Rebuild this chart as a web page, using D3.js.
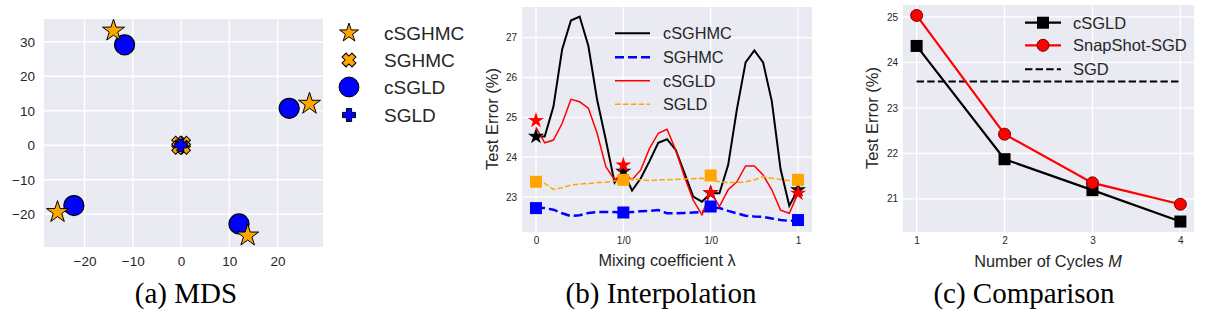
<!DOCTYPE html>
<html>
<head>
<meta charset="utf-8">
<script src="https://cdn.jsdelivr.net/npm/d3@7"></script>
<style>
  body { margin: 0; background: #fff; }
  text { font-family: "Liberation Sans", Arial, sans-serif; fill: #262626; }
  .caption { font-family: "Liberation Serif", "Times New Roman", serif; fill: #000; }
</style>
</head>
<body>
<svg id="fig"></svg>
<script>
// (a) MDS
var mdsCSGHMC = [[-14, 33.2], [26.6, 12], [-25.6, -19.4], [13.8, -26.2]];
var mdsSGHMC = [[-0.5, 0.6], [0.5, 0.6], [-0.5, -0.6], [0.5, -0.6]];
var mdsCSGLD = [[-11.7, 29.1], [22.4, 10.7], [-22.2, -17.5], [12, -22.8]];
var mdsSGLD = [[0, 0], [0.1, 0.1], [-0.1, -0.1]];
var mdsXTicks = [-20, -10, 0, 10, 20];
var mdsYTicks = [-20, -10, 0, 10, 20, 30];

// (b) Interpolation
var lambdaSteps = d3.range(31).map(function (i) { return i / 10; });
var interpXTicks = [0, 1, 2, 3];
var interpXLabels = ['0', '1/0', '1/0', '1'];
var interpYTicks = [23, 24, 25, 26, 27];
var lineCSGHMC = [24.52, 24.52, 25.27, 26.71, 27.43, 27.53, 26.79, 25.44, 24.43, 23.36,
    23.64, 23.16, 23.47, 23.90, 24.36, 24.45, 24.18, 23.60, 23.01, 22.88,
    23.09, 23.09, 23.80, 25.20, 26.38, 26.68, 26.38, 25.40, 23.70, 22.78, 23.18];
var lineSGHMC = [22.72, 22.72, 22.68, 22.59, 22.52, 22.54, 22.60, 22.62, 22.62, 22.62,
    22.60, 22.62, 22.64, 22.65, 22.67, 22.59, 22.59, 22.60, 22.61, 22.62,
    22.74, 22.72, 22.65, 22.59, 22.53, 22.51, 22.50, 22.46, 22.42, 22.40, 22.40];
var lineCSGLD = [24.75, 24.36, 24.43, 24.85, 25.45, 25.39, 25.23, 24.60, 23.76, 23.43,
    23.60, 23.43, 23.68, 24.22, 24.60, 24.70, 24.18, 23.51, 22.92, 22.55,
    23.13, 22.76, 23.18, 23.38, 23.78, 23.78, 23.55, 23.18, 22.67, 22.59, 23.09];
var lineSGLD = [23.38, 23.34, 23.19, 23.23, 23.30, 23.32, 23.34, 23.36, 23.37, 23.40,
    23.43, 23.45, 23.43, 23.41, 23.43, 23.43, 23.44, 23.45, 23.46, 23.47,
    23.43, 23.38, 23.36, 23.36, 23.38, 23.43, 23.51, 23.47, 23.44, 23.41, 23.38];
var endpoints = [0, 1, 2, 3];
var starCSGHMC = [24.52, 23.64, 23.10, 23.18];
var starCSGLD = [24.92, 23.80, 23.11, 23.09];
var squareSGHMC = [22.72, 22.61, 22.76, 22.42];
var squareSGLD = [23.38, 23.43, 23.54, 23.43];

// (c) Comparison
var cycles = [1, 2, 3, 4];
var compCSGLD = [24.36, 21.87, 21.19, 20.50];
var compSnapshot = [25.03, 22.42, 21.35, 20.88];
var compSGD = 23.58;
var compYTicks = [21, 22, 23, 24, 25];

var svg = d3.select('#fig').attr('width', 1217).attr('height', 323);
svg.append('rect').attr('width', 1217).attr('height', 323).attr('fill', '#fff');

function panel(x0, x1, y0, y1, xDom, yDom, xTicks, yTicks, xLabels, fontSize, pad) {
    var g = svg.append('g');
    var x = d3.scaleLinear().domain(xDom).range([x0, x1]);
    var y = d3.scaleLinear().domain(yDom).range([y1, y0]);
    g.append('rect')
        .attr('x', x0).attr('y', y0)
        .attr('width', x1 - x0).attr('height', y1 - y0)
        .attr('fill', '#eaeaf2');
    g.selectAll('.vg').data(xTicks).enter().append('line')
        .attr('x1', x).attr('x2', x).attr('y1', y0).attr('y2', y1)
        .attr('stroke', '#fff').attr('stroke-width', 1.3);
    g.selectAll('.hg').data(yTicks).enter().append('line')
        .attr('x1', x0).attr('x2', x1).attr('y1', y).attr('y2', y)
        .attr('stroke', '#fff').attr('stroke-width', 1.3);
    var fmt = function (d) { return String(d).replace('-', '\u2212'); };
    var xa = g.append('g').attr('transform', 'translate(0,' + y1 + ')')
        .call(d3.axisBottom(x).tickValues(xTicks).tickSize(0).tickPadding(pad)
            .tickFormat(function (d, i) { return xLabels ? xLabels[i] : fmt(d); }));
    var ya = g.append('g').attr('transform', 'translate(' + x0 + ',0)')
        .call(d3.axisLeft(y).tickValues(yTicks).tickSize(0).tickPadding(pad).tickFormat(fmt));
    [xa, ya].forEach(function (a) {
        a.select('.domain').remove();
        a.selectAll('text').attr('font-size', fontSize)
            .attr('font-family', '"Liberation Sans", Arial, sans-serif').attr('fill', '#262626');
    });
    return { g: g, x: x, y: y };
}

function sym(type, size) {
    return d3.symbol().type(type).size(size)();
}

// filled plus like matplotlib 'P' (rotate 45 for 'X')
function plusPath(L, t) {
    var p = [[-t, -L], [t, -L], [t, -t], [L, -t], [L, t], [t, t], [t, L], [-t, L],
        [-t, t], [-L, t], [-L, -t], [-t, -t]];
    return 'M' + p.map(function (q) { return q.join(','); }).join('L') + 'Z';
}

// ---- panel a ----
var pa = panel(44, 323, 19, 247, [-28.4, 29.4], [-29.5, 36.6], mdsXTicks, mdsYTicks, null, 13.5, 9);

pa.g.selectAll('.sghmc').data(mdsSGHMC).enter().append('path')
    .attr('d', plusPath(7, 2.8))
    .attr('transform', function (d) { return 'translate(' + pa.x(d[0]) + ',' + pa.y(d[1]) + ') rotate(45)'; })
    .attr('fill', 'orange').attr('stroke', '#000').attr('stroke-width', 1);
pa.g.selectAll('.csgld').data(mdsCSGLD).enter().append('circle')
    .attr('cx', function (d) { return pa.x(d[0]); })
    .attr('cy', function (d) { return pa.y(d[1]); })
    .attr('r', 10)
    .attr('fill', 'blue').attr('stroke', '#000').attr('stroke-width', 1.2);
pa.g.selectAll('.csghmc').data(mdsCSGHMC).enter().append('path')
    .attr('d', sym(d3.symbolStar, 150))
    .attr('transform', function (d) { return 'translate(' + pa.x(d[0]) + ',' + pa.y(d[1]) + ')'; })
    .attr('fill', 'orange').attr('stroke', '#000').attr('stroke-width', 1);
pa.g.selectAll('.sgld').data(mdsSGLD).enter().append('path')
    .attr('d', plusPath(6, 2.4))
    .attr('transform', function (d) { return 'translate(' + pa.x(d[0]) + ',' + pa.y(d[1]) + ')'; })
    .attr('fill', 'blue').attr('stroke', '#000').attr('stroke-width', 0.6);

var legA = [
    { name: 'cSGHMC', d: sym(d3.symbolStar, 110), rot: 0, fill: 'orange' },
    { name: 'SGHMC', d: plusPath(7, 2.8), rot: 45, fill: 'orange' },
    { name: 'cSGLD', d: sym(d3.symbolCircle, 310), rot: 0, fill: 'blue' },
    { name: 'SGLD', d: plusPath(6.5, 2.6), rot: 0, fill: 'blue' }
];
var legAy = [33, 60, 87, 115];
legA.forEach(function (l, i) {
    svg.append('path').attr('d', l.d)
        .attr('transform', 'translate(349,' + legAy[i] + ') rotate(' + l.rot + ')')
        .attr('fill', l.fill).attr('stroke', '#000').attr('stroke-width', 1);
    svg.append('text').attr('x', 384).attr('y', legAy[i]).attr('dy', '0.36em')
        .attr('font-size', 19).text(l.name);
});

// ---- panel b ----
var pb = panel(522, 812, 7, 232, [-0.16, 3.16], [22.12, 27.77], interpXTicks, interpYTicks, interpXLabels, 10, 5);

var interpSeries = [
    { name: 'cSGHMC', vals: lineCSGHMC, color: '#000', w: 2, dash: null },
    { name: 'SGHMC', vals: lineSGHMC, color: 'blue', w: 2.5, dash: '9,4' },
    { name: 'cSGLD', vals: lineCSGLD, color: 'red', w: 1.5, dash: null },
    { name: 'SGLD', vals: lineSGLD, color: 'orange', w: 1.5, dash: '5.5,2.4' }
];
var lineB = d3.line()
    .x(function (d, i) { return pb.x(lambdaSteps[i]); })
    .y(function (d) { return pb.y(d); });
interpSeries.forEach(function (s) {
    pb.g.append('path').attr('d', lineB(s.vals))
        .attr('fill', 'none').attr('stroke', s.color).attr('stroke-width', s.w)
        .attr('stroke-dasharray', s.dash);
});

function starsB(vals, color) {
    pb.g.selectAll(null).data(vals).enter().append('path')
        .attr('d', sym(d3.symbolStar, 80))
        .attr('transform', function (d, i) { return 'translate(' + pb.x(endpoints[i]) + ',' + pb.y(d) + ')'; })
        .attr('fill', color);
}
function squaresB(vals, color) {
    pb.g.selectAll(null).data(vals).enter().append('rect')
        .attr('x', function (d, i) { return pb.x(endpoints[i]) - 6; })
        .attr('y', function (d) { return pb.y(d) - 6; })
        .attr('width', 12).attr('height', 12)
        .attr('fill', color);
}
starsB(starCSGHMC, '#000');
starsB(starCSGLD, 'red');
squaresB(squareSGHMC, 'blue');
squaresB(squareSGLD, 'orange');

var legBy = [33.3, 57.3, 80.7, 104.3];
interpSeries.forEach(function (s, i) {
    svg.append('line').attr('x1', 615).attr('x2', 650).attr('y1', legBy[i]).attr('y2', legBy[i])
        .attr('stroke', s.color).attr('stroke-width', s.w).attr('stroke-dasharray', s.dash);
    svg.append('text').attr('x', 663).attr('y', legBy[i]).attr('dy', '0.36em')
        .attr('font-size', 16.3).text(s.name);
});

svg.append('text').attr('transform', 'translate(492,119) rotate(-90)')
    .attr('text-anchor', 'middle').attr('dy', '0.36em').attr('font-size', 16.5)
    .text('Test Error (%)');
svg.append('text').attr('x', 667).attr('y', 266).attr('text-anchor', 'middle')
    .attr('font-size', 16.3).text('Mixing coefficient \u03bb');

// ---- panel c ----
var pc = panel(903, 1194, 5, 232, [0.845, 4.155], [20.27, 25.26], cycles, compYTicks, null, 10, 5);

pc.g.append('line')
    .attr('x1', pc.x(1)).attr('x2', pc.x(4))
    .attr('y1', pc.y(compSGD)).attr('y2', pc.y(compSGD))
    .attr('stroke', '#000').attr('stroke-width', 2).attr('stroke-dasharray', '7.4,3.2');

var lineC = d3.line()
    .x(function (d, i) { return pc.x(cycles[i]); })
    .y(function (d) { return pc.y(d); });
pc.g.append('path').attr('d', lineC(compCSGLD))
    .attr('fill', 'none').attr('stroke', '#000').attr('stroke-width', 2.2);
pc.g.selectAll(null).data(compCSGLD).enter().append('rect')
    .attr('x', function (d, i) { return pc.x(cycles[i]) - 6; })
    .attr('y', function (d) { return pc.y(d) - 6; })
    .attr('width', 12).attr('height', 12).attr('fill', '#000');
pc.g.append('path').attr('d', lineC(compSnapshot))
    .attr('fill', 'none').attr('stroke', 'red').attr('stroke-width', 2.2);
pc.g.selectAll(null).data(compSnapshot).enter().append('circle')
    .attr('cx', function (d, i) { return pc.x(cycles[i]); })
    .attr('cy', function (d) { return pc.y(d); })
    .attr('r', 6).attr('fill', 'red').attr('stroke', '#700').attr('stroke-width', 1);

var legCy = [22.7, 45.3, 69.3];
svg.append('line').attr('x1', 1025).attr('x2', 1061).attr('y1', legCy[0]).attr('y2', legCy[0])
    .attr('stroke', '#000').attr('stroke-width', 2.2);
svg.append('rect').attr('x', 1037).attr('y', legCy[0] - 6).attr('width', 12).attr('height', 12).attr('fill', '#000');
svg.append('line').attr('x1', 1025).attr('x2', 1061).attr('y1', legCy[1]).attr('y2', legCy[1])
    .attr('stroke', 'red').attr('stroke-width', 2.2);
svg.append('circle').attr('cx', 1043).attr('cy', legCy[1]).attr('r', 6)
    .attr('fill', 'red').attr('stroke', '#700').attr('stroke-width', 1);
svg.append('line').attr('x1', 1025).attr('x2', 1061).attr('y1', legCy[2]).attr('y2', legCy[2])
    .attr('stroke', '#000').attr('stroke-width', 2).attr('stroke-dasharray', '7.4,3.2');
['cSGLD', 'SnapShot-SGD', 'SGD'].forEach(function (n, i) {
    svg.append('text').attr('x', 1073).attr('y', legCy[i]).attr('dy', '0.36em')
        .attr('font-size', 16.5).text(n);
});

svg.append('text').attr('transform', 'translate(872,118) rotate(-90)')
    .attr('text-anchor', 'middle').attr('dy', '0.36em').attr('font-size', 16.5)
    .text('Test Error (%)');
var xl = svg.append('text').attr('x', 1048).attr('y', 267).attr('text-anchor', 'middle')
    .attr('font-size', 16.3);
xl.append('tspan').text('Number of Cycles ');
xl.append('tspan').attr('font-style', 'italic').text('M');

// captions
[['(a) MDS', 186], ['(b) Interpolation', 661], ['(c) Comparison', 1024]].forEach(function (c) {
    svg.append('text').attr('class', 'caption').attr('x', c[1]).attr('y', 303)
        .attr('text-anchor', 'middle').attr('font-size', 29).text(c[0]);
});
</script>
</body>
</html>
